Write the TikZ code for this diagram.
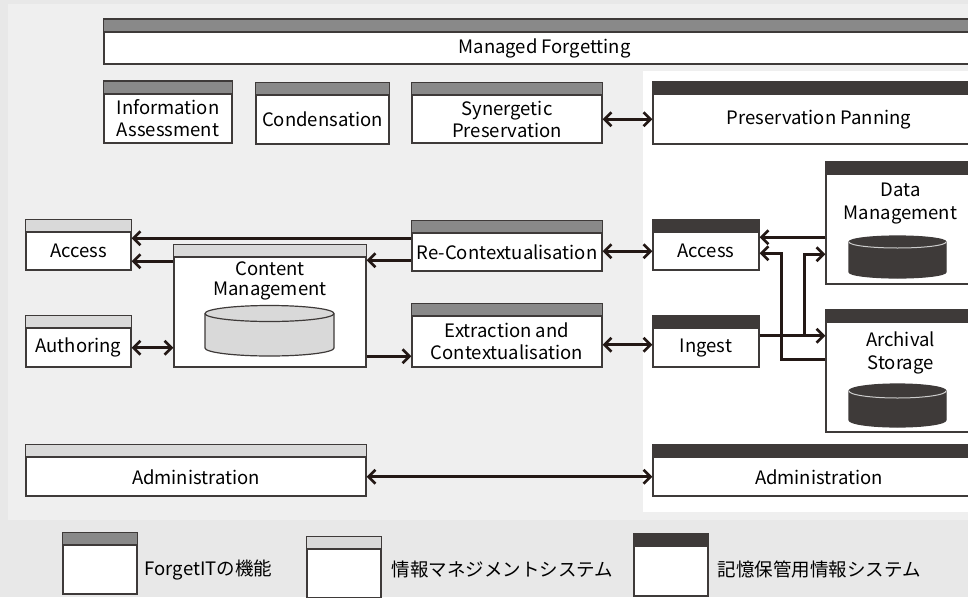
\documentclass[tikz,border=0pt]{standalone}
\usepackage{fontspec}
\setmainfont{Noto Sans CJK JP}
\usepackage{tikz}
\usetikzlibrary{arrows.meta,calc}
\definecolor{ink}{HTML}{231815}
\definecolor{edge}{HTML}{3e3a39}
\definecolor{fgit}{HTML}{898989}
\definecolor{infom}{HTML}{d9d9d9}
\definecolor{store}{HTML}{3e3a39}
\definecolor{paper}{HTML}{e8e8e8}
\definecolor{panel}{HTML}{efefef}

\begin{document}
\begin{tikzpicture}[x=1pt,y=-1pt,font=\fontsize{18.5}{22}\selectfont,
  unit/.style={draw=edge,fill=white,line width=1.2pt,inner sep=0pt,align=center},
  link/.style={draw=ink,line width=2.6pt},
  >={Straight Barb[length=7pt,width=14pt]}]
  \useasboundingbox (0,0) rectangle (968,597);
  \clip (0,0) rectangle (968,597);
  % backgrounds
  \fill[paper] (0,0) rectangle (968,597);
  \fill[panel] (8,4) rectangle (968,520);
  \fill[white] (643,71) rectangle (968,512);

  % ForgetIT functions
  \node[unit,minimum width=881pt,minimum height=32pt] (mf) at (544.5,48) {Managed Forgetting};
  \node[unit,minimum width=128pt,minimum height=49pt] (ia) at (168,118.5) {Information\\Assessment};
  \node[unit,minimum width=133pt,minimum height=48.5pt] (cond) at (322.5,119.75) {Condensation};
  \node[unit,minimum width=190pt,minimum height=47.5pt] (syn) at (507,119.25) {Synergetic\\Preservation};
  \node[unit,minimum width=190pt,minimum height=37.5pt] (rec) at (507,252.25) {Re-Contextualisation};
  \node[unit,minimum width=190pt,minimum height=50.5pt] (ext) at (507,341.75) {Extraction and\\Contextualisation};

  % information management system
  \node[unit,minimum width=105pt,minimum height=37.5pt] (accl) at (78.5,251.25) {Access};
  \node[unit,minimum width=105pt,minimum height=38.5pt] (auth) at (78.5,347.75) {Authoring};
  \node[unit,minimum width=192pt,minimum height=109.5pt,
    label={[anchor=north,inner sep=0pt,align=center,yshift=-5pt,font=\fontsize{18.5}{20}\selectfont]north:{Content\\Management}}] (cm) at (270,312.25) {};
  \node[unit,minimum width=340pt,minimum height=38.5pt] (adml) at (196,476.75) {Administration};

  % preservation system
  \node[unit,minimum width=332pt,minimum height=49.5pt] (pp) at (819,119.25) {Preservation Panning};
  \node[unit,minimum width=106pt,minimum height=37.5pt] (accr) at (706,251.25) {Access};
  \node[unit,minimum width=106pt,minimum height=38.5pt] (ing) at (706,347.75) {Ingest};
  \node[unit,minimum width=149pt,minimum height=109.5pt,
    label={[anchor=north,inner sep=0pt,align=center,yshift=-9pt,font=\fontsize{18.5}{23}\selectfont]north:{Data\\Management}}] (dm) at (900.5,229.25) {};
  \node[unit,minimum width=149pt,minimum height=109.5pt,
    label={[anchor=north,inner sep=0pt,align=center,yshift=-10pt,font=\fontsize{18.5}{23}\selectfont]north:{Archival\\Storage}}] (as) at (900.5,377.25) {};
  \node[unit,minimum width=332pt,minimum height=38.5pt] (admr) at (819,476.75) {Administration};

  % legend
  \node[unit,minimum width=74pt,minimum height=48.5pt] (lg1) at (100,569.75) {};
  \node[unit,minimum width=74pt,minimum height=48.5pt] (lg2) at (344,573.75) {};
  \node[unit,minimum width=74pt,minimum height=49.5pt] (lg3) at (671,571.25) {};
  \node[anchor=west,inner sep=0pt,xshift=7pt,yshift=0pt] (lt1) at (lg1.east) {ForgetITの機能};
  \node[anchor=west,inner sep=0pt,xshift=10pt,yshift=4pt] (lt2) at (lg2.east) {情報マネジメントシステム};
  \node[anchor=west,inner sep=0pt,xshift=9pt,yshift=2pt] (lt3) at (lg3.east) {記憶保管用情報システム};

  % headers
  \foreach \n/\c in {mf/fgit,ia/fgit,cond/fgit,syn/fgit,rec/fgit,ext/fgit,lg1/fgit,
      accl/infom,auth/infom,cm/infom,adml/infom,lg2/infom,
      pp/store,accr/store,ing/store,dm/store,as/store,admr/store,lg3/store}
    \filldraw[fill=\c,draw=edge,line width=1.2pt] ([yshift=12.5pt]\n.north west) rectangle (\n.north east);

  % databases
  \filldraw[fill=infom,draw=edge,line width=1.2pt] (205,313.5) -- (205,348)
    arc[start angle=180,end angle=0,x radius=64.5,y radius=8] -- (334,313.5)
    arc[start angle=0,end angle=-180,x radius=64.5,y radius=8] -- cycle;
  \draw[edge,line width=1.2pt] (205,313.5) arc[start angle=180,end angle=0,x radius=64.5,y radius=8];
  \filldraw[fill=store,draw=store,line width=1.2pt] (849,242) -- (849,272)
    arc[start angle=180,end angle=0,x radius=48.5,y radius=6] -- (946,242)
    arc[start angle=0,end angle=-180,x radius=48.5,y radius=6] -- cycle;
  \draw[white!80!black,line width=1pt] (849,242) arc[start angle=180,end angle=0,x radius=48.5,y radius=6];
  \filldraw[fill=store,draw=store,line width=1.2pt] (849,391) -- (849,420)
    arc[start angle=180,end angle=0,x radius=48.5,y radius=7] -- (946,391)
    arc[start angle=0,end angle=-180,x radius=48.5,y radius=7] -- cycle;
  \draw[white!80!black,line width=1pt] (849,391) arc[start angle=180,end angle=0,x radius=48.5,y radius=7];

  % connectors
  \coordinate (r1) at ($(rec.west)+(0,-14)$);
  \coordinate (r2) at ($(rec.west)+(0,8)$);
  \coordinate (r3) at ($(accl.east)+(0,10)$);
  \coordinate (r4) at ($(cm.east)+(0,44)$);
  \coordinate (r5) at ($(ing.west)+(0,-3)$);
  \coordinate (r6) at ($(accr.east)+(0,-14)$);
  \coordinate (r7) at ($(accr.east)+(0,2)$);
  \coordinate (r8) at ($(as.west)+(0,-18)$);
  \coordinate (r9) at ($(ing.east)+(0,-12)$);
  \coordinate (r10) at ($(dm.west)+(0,25)$);
  \draw[link,<->] (syn.east) -- (pp.west);
  \draw[link,->] (r1) -- (r1 -| accl.east);
  \draw[link,->] (r2) -- (r2 -| cm.east);
  \draw[link,->] (r3 -| cm.west) -- (r3);
  \draw[link,<->] (auth.east) -- (auth.east -| cm.west);
  \draw[link,->] (r4) -- (r4 -| ext.west);
  \draw[link,<->] (r5 -| ext.east) -- (r5);
  \draw[link,<->] (accr.west -| rec.east) -- (accr.west);
  \draw[link,<->] (adml.east) -- (admr.west);
  \draw[link,->] (r6 -| dm.west) -- (r6);
  \draw[link,->] (r8) -| ($(r7)+(22,0)$) -- (r7);
  \draw[link,->] (r9) -- (r9 -| as.west);
  \draw[link,->] ($(r9)+(45,0)$) |- (r10);
\end{tikzpicture}
\end{document}
